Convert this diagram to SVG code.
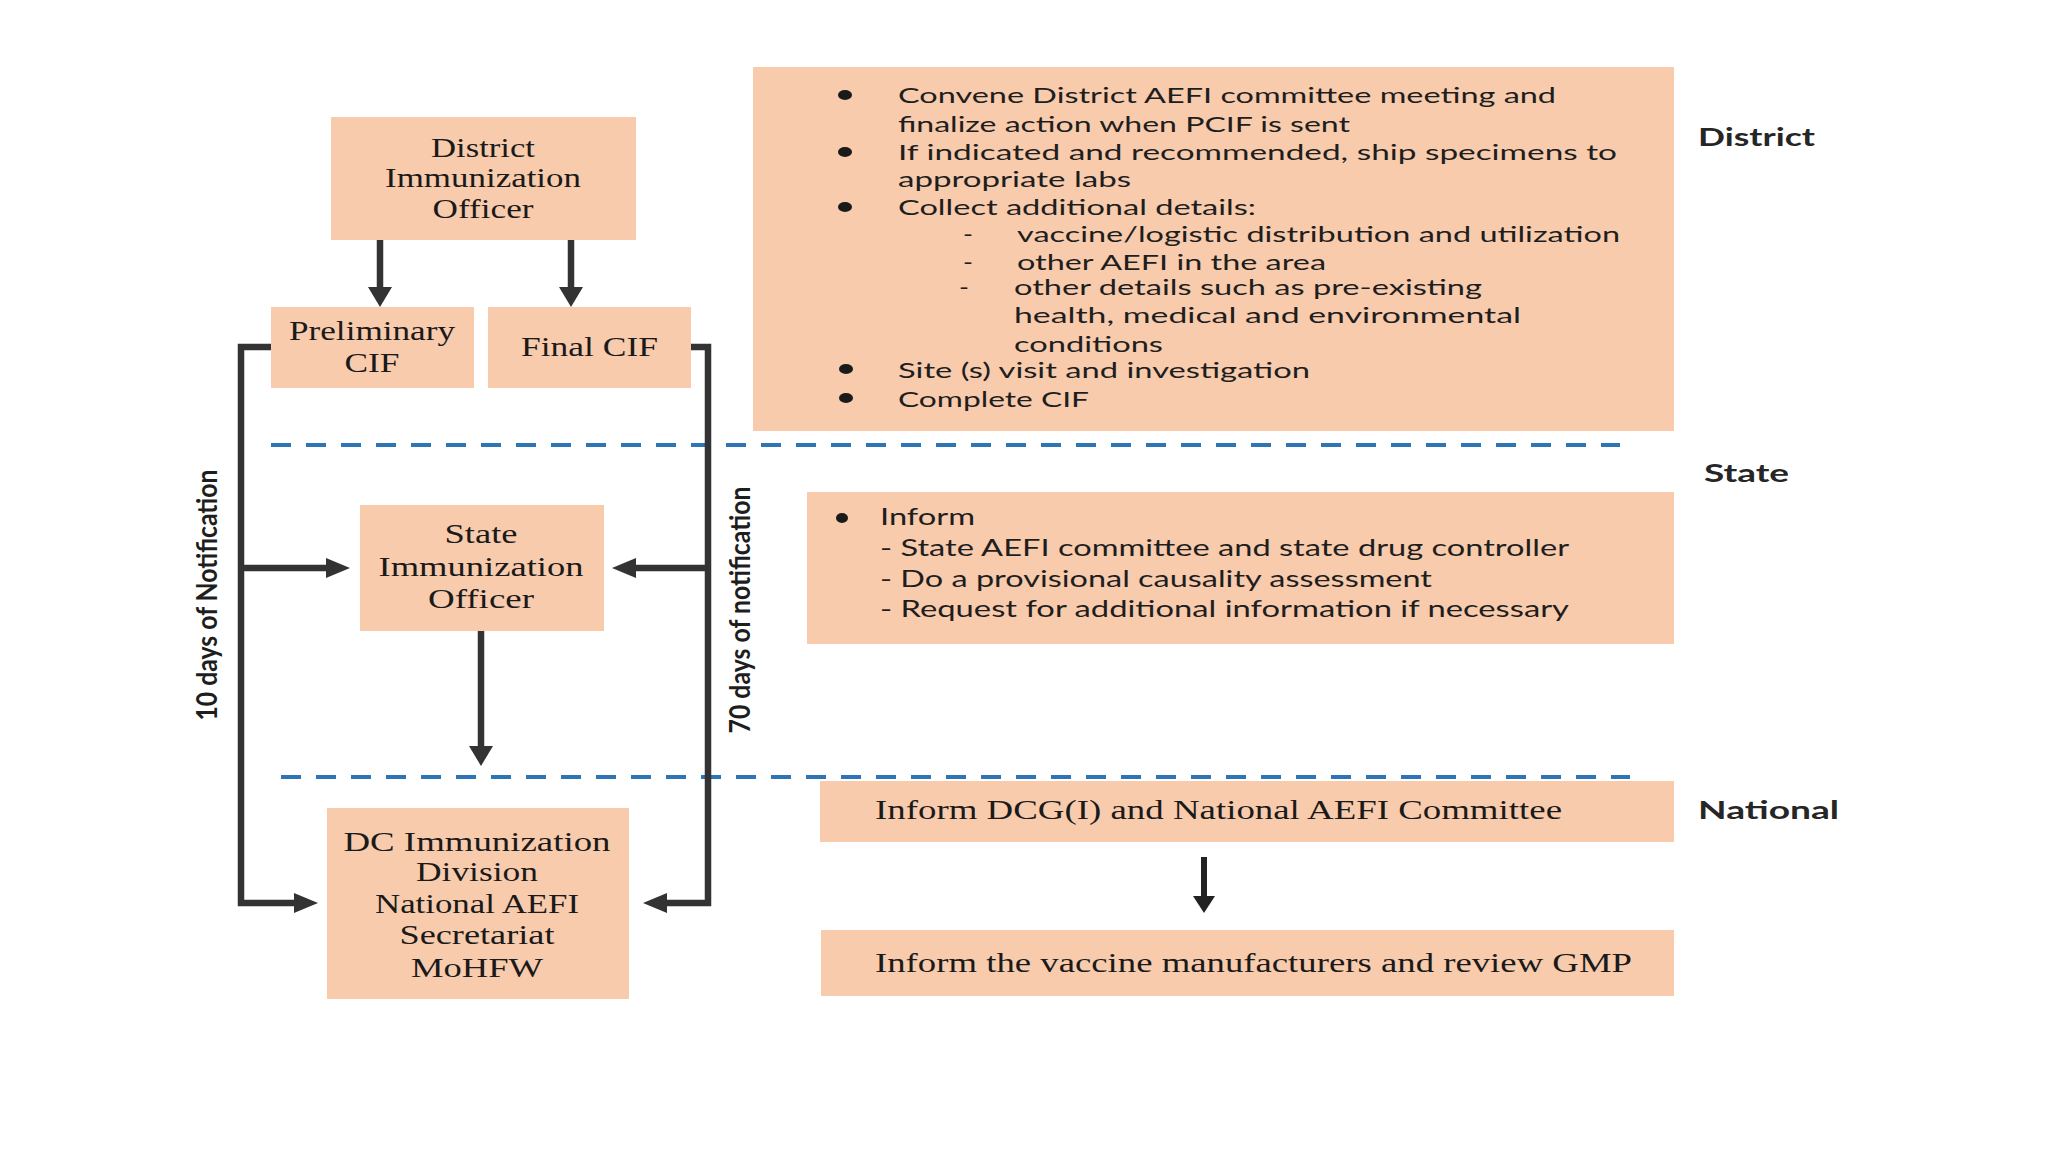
<svg xmlns="http://www.w3.org/2000/svg" width="2048" height="1152" viewBox="0 0 2048 1152">
<style>
.box{fill:#F8CBAD;}
.serif{font-family:"Liberation Serif","Times New Roman",serif;font-size:27px;fill:#1a1a1a;}
.sans{font-family:Lato,"Liberation Sans",sans-serif;font-size:21px;fill:#1e1e1e;}
.sans2{font-family:Lato,"Liberation Sans",sans-serif;font-size:23px;fill:#1e1e1e;}
.bul{fill:#1a1a1a;}
.lbl{font-family:Lato,"Liberation Sans",sans-serif;font-size:25px;font-weight:bold;fill:#262626;}
.rot{font-family:Lato,"Liberation Sans",sans-serif;font-size:22px;font-weight:bold;fill:#1e1e1e;}
.c{text-anchor:middle;}
.conn{fill:none;stroke:#333333;stroke-width:6.5;}
.thin{fill:none;stroke:#222222;stroke-width:6;}
.dash{fill:none;stroke:#2E75B6;stroke-width:4;stroke-dasharray:20 15;}
</style>
<defs>
<marker id="headA" markerUnits="userSpaceOnUse" markerWidth="20" markerHeight="24" refX="0" refY="12" orient="auto"><path d="M0,0 L20,12 L0,24 Z" fill="#333333"/></marker>
<marker id="headB" markerUnits="userSpaceOnUse" markerWidth="24" markerHeight="20" refX="0" refY="10" orient="auto"><path d="M0,0 L24,10 L0,20 Z" fill="#333333"/></marker>
<marker id="headC" markerUnits="userSpaceOnUse" markerWidth="17" markerHeight="22" refX="0" refY="11" orient="auto"><path d="M0,0 L17,11 L0,22 Z" fill="#222222"/></marker>
</defs>
<rect width="2048" height="1152" fill="#ffffff"/>

<g id="separators">
<path class="dash" d="M271,445 H1620"/>
<path class="dash" d="M281,777 H1630"/>
</g>

<g id="connectors">
<path class="conn" d="M380,240 V287" marker-end="url(#headA)"/>
<path class="conn" d="M571,240 V287" marker-end="url(#headA)"/>
<path class="conn" d="M271,347 H241 V903 H294" marker-end="url(#headB)"/>
<path class="conn" d="M241,568 H326" marker-end="url(#headB)"/>
<path class="conn" d="M691,347 H708 V903 H667" marker-end="url(#headB)"/>
<path class="conn" d="M708,568 H636" marker-end="url(#headB)"/>
<path class="conn" d="M481,631 V746" marker-end="url(#headA)"/>
<path class="thin" d="M1204,857 V896" marker-end="url(#headC)"/>
<text class="rot c" transform="translate(217,595) scale(1.3,1) rotate(-90)" textLength="251" lengthAdjust="spacingAndGlyphs">10 days of Notification</text>
<text class="rot c" transform="translate(750,610) scale(1.3,1) rotate(-90)" textLength="247" lengthAdjust="spacingAndGlyphs">70 days of notification</text>
</g>

<g id="district-officer">
<rect class="box" x="331" y="117" width="305" height="123"/>
<text class="serif c" x="483" y="157" textLength="104" lengthAdjust="spacingAndGlyphs">District</text>
<text class="serif c" x="483" y="187" textLength="196" lengthAdjust="spacingAndGlyphs">Immunization</text>
<text class="serif c" x="483" y="218" textLength="101" lengthAdjust="spacingAndGlyphs">Officer</text>
</g>

<g id="preliminary-cif">
<rect class="box" x="271" y="307" width="203" height="81"/>
<text class="serif c" x="372" y="340" textLength="166" lengthAdjust="spacingAndGlyphs">Preliminary</text>
<text class="serif c" x="372" y="372" textLength="55" lengthAdjust="spacingAndGlyphs">CIF</text>
</g>

<g id="final-cif">
<rect class="box" x="488" y="307" width="203" height="81"/>
<text class="serif c" x="589.5" y="356" textLength="137" lengthAdjust="spacingAndGlyphs">Final CIF</text>
</g>

<g id="state-officer">
<rect class="box" x="360" y="505" width="244" height="126"/>
<text class="serif c" x="481" y="543" textLength="73" lengthAdjust="spacingAndGlyphs">State</text>
<text class="serif c" x="481" y="576" textLength="205" lengthAdjust="spacingAndGlyphs">Immunization</text>
<text class="serif c" x="481" y="608" textLength="106" lengthAdjust="spacingAndGlyphs">Officer</text>
</g>

<g id="dc-immunization">
<rect class="box" x="327" y="808" width="302" height="191"/>
<text class="serif c" x="477" y="851" textLength="267" lengthAdjust="spacingAndGlyphs">DC Immunization</text>
<text class="serif c" x="477" y="881" textLength="122" lengthAdjust="spacingAndGlyphs">Division</text>
<text class="serif c" x="477" y="913" textLength="204" lengthAdjust="spacingAndGlyphs">National  AEFI</text>
<text class="serif c" x="477" y="944" textLength="155" lengthAdjust="spacingAndGlyphs">Secretariat</text>
<text class="serif c" x="477" y="977" textLength="132" lengthAdjust="spacingAndGlyphs">MoHFW</text>
</g>

<g id="district-actions">
<rect class="box" x="753" y="67" width="921" height="364"/>
<ellipse class="bul" cx="845" cy="95" rx="7" ry="5"/>
<ellipse class="bul" cx="845" cy="152" rx="7" ry="5"/>
<ellipse class="bul" cx="845" cy="207" rx="7" ry="5"/>
<ellipse class="bul" cx="846" cy="369" rx="7" ry="5"/>
<ellipse class="bul" cx="846" cy="398" rx="7" ry="5"/>
<text class="sans" x="898" y="103" textLength="658" lengthAdjust="spacingAndGlyphs">Convene District AEFI committee meeting and</text>
<text class="sans" x="898" y="132" textLength="452" lengthAdjust="spacingAndGlyphs">finalize action when PCIF is sent</text>
<text class="sans" x="898" y="160" textLength="719" lengthAdjust="spacingAndGlyphs">If indicated and recommended,  ship specimens to</text>
<text class="sans" x="898" y="187" textLength="233" lengthAdjust="spacingAndGlyphs">appropriate labs</text>
<text class="sans" x="898" y="215" textLength="358" lengthAdjust="spacingAndGlyphs">Collect additional details:</text>
<text class="sans" x="963" y="242" textLength="10" lengthAdjust="spacingAndGlyphs">-</text>
<text class="sans" x="1017" y="242" textLength="603" lengthAdjust="spacingAndGlyphs">vaccine/logistic distribution and utilization</text>
<text class="sans" x="963" y="270" textLength="10" lengthAdjust="spacingAndGlyphs">-</text>
<text class="sans" x="1017" y="270" textLength="309" lengthAdjust="spacingAndGlyphs">other AEFI in the area</text>
<text class="sans" x="959" y="295" textLength="10" lengthAdjust="spacingAndGlyphs">-</text>
<text class="sans" x="1014" y="295" textLength="468" lengthAdjust="spacingAndGlyphs">other details such as pre-existing</text>
<text class="sans" x="1014" y="323" textLength="507" lengthAdjust="spacingAndGlyphs">health,  medical and environmental</text>
<text class="sans" x="1014" y="352" textLength="149" lengthAdjust="spacingAndGlyphs">conditions</text>
<text class="sans" x="898" y="378" textLength="412" lengthAdjust="spacingAndGlyphs">Site (s) visit and investigation</text>
<text class="sans" x="898" y="407" textLength="191" lengthAdjust="spacingAndGlyphs">Complete CIF</text>
</g>

<g id="state-actions">
<rect class="box" x="807" y="492" width="867" height="152"/>
<ellipse class="bul" cx="842" cy="518" rx="6" ry="5"/>
<text class="sans2" x="880" y="525" textLength="95" lengthAdjust="spacingAndGlyphs">Inform</text>
<text class="sans2" x="880" y="556" textLength="689" lengthAdjust="spacingAndGlyphs">- State AEFI committee and state drug controller</text>
<text class="sans2" x="880" y="587" textLength="552" lengthAdjust="spacingAndGlyphs">- Do a provisional causality assessment</text>
<text class="sans2" x="880" y="617" textLength="689" lengthAdjust="spacingAndGlyphs">- Request for additional information if necessary</text>
</g>

<g id="national-inform">
<rect class="box" x="820" y="781" width="854" height="61"/>
<text class="serif" x="875" y="819" textLength="687" lengthAdjust="spacingAndGlyphs">Inform DCG(I) and National AEFI Committee</text>
</g>

<g id="national-gmp">
<rect class="box" x="821" y="930" width="853" height="66"/>
<text class="serif" x="875" y="972" textLength="757" lengthAdjust="spacingAndGlyphs">Inform the vaccine manufacturers and review GMP</text>
</g>

<g id="level-labels">
<text class="lbl" x="1698" y="146" textLength="117" lengthAdjust="spacingAndGlyphs">District</text>
<text class="lbl" x="1704" y="482" textLength="85" lengthAdjust="spacingAndGlyphs">State</text>
<text class="lbl" x="1698" y="819" textLength="141" lengthAdjust="spacingAndGlyphs">National</text>
</g>
</svg>
